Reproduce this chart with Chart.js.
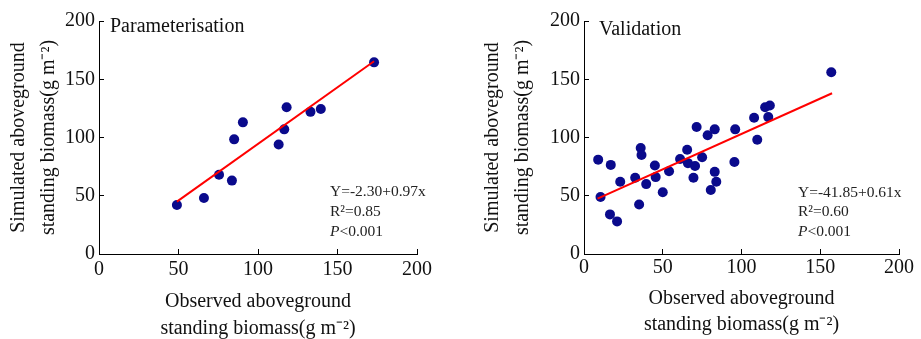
<!DOCTYPE html>
<html><head><meta charset="utf-8">
<script src="https://cdn.jsdelivr.net/npm/chart.js@4.4.1/dist/chart.umd.min.js"></script>
<style>
html,body{margin:0;padding:0;background:#fff;}
#wrap{position:relative;width:921px;height:339px;overflow:hidden;background:#fff;}
#c1{position:absolute;left:0;top:0;}
#c2{position:absolute;left:460px;top:0;}
</style></head><body>
<div id="wrap"><canvas id="c1" width="460" height="339"></canvas><canvas id="c2" width="461" height="339"></canvas></div>
<script>
// ---- data ----
const paramObserved  = [49, 66, 75.5, 83.6, 85, 90.5, 113, 116.5, 118, 133, 139.5, 173];
const paramSimulated = [42, 48, 68, 63, 98.4, 113, 94, 107, 126, 122, 124.5, 164.5];
const paramFitX = [49, 173];
const paramFitY = [45, 165.5];

const validObserved  = [9, 10.5, 17, 16.5, 21, 23, 32.5, 36, 36.5, 35, 39.5, 45, 45.5, 50, 54, 61, 65.5, 66, 70.5, 69.5, 71.5, 75, 78.5, 83, 80.5, 83, 84, 96, 95.5, 108, 110, 115, 118, 117, 157];
const validSimulated = [81, 49, 76.5, 34, 28, 62, 65.5, 91, 85, 42.5, 60, 76, 66, 53, 71, 81.5, 89.5, 78, 75.5, 65.5, 109, 83, 102, 107, 55, 70.5, 62, 107, 79, 117, 98, 126, 127.5, 117.5, 156];
const validFitX = [8.6, 157.5];
const validFitY = [47.5, 138];

const tickValues = [0, 50, 100, 150, 200];
const xTitle = ['Observed aboveground', 'standing biomass(g m\u207B\u00B2)'];
const yTitle = ['Simulated aboveground', 'standing biomass(g m\u207B\u00B2)'];
const paramText = {panel: 'Parameterisation', eq: 'Y=-2.30+0.97x', r2: 'R\u00B2=0.85', p: '<0.001'};
const validText = {panel: 'Validation', eq: 'Y=-41.85+0.61x', r2: 'R\u00B2=0.60', p: '<0.001'};

const FONT = 'Liberation Serif';

const textPlugin = {
  id: 'panelText',
  afterDraw(chart, args, o) {
    const ctx = chart.ctx;
    ctx.save();
    ctx.fillStyle = '#111';
    ctx.textBaseline = 'middle';
    ctx.textAlign = 'left';
    ctx.font = '20px "' + FONT + '"';
    ctx.fillText(o.t.panel, o.panelX, o.panelY);
    ctx.fillStyle = '#222';
    ctx.font = '15.5px "' + FONT + '"';
    ctx.fillText(o.t.eq, o.x, o.y[0]);
    ctx.fillText(o.t.r2, o.x, o.y[1]);
    ctx.font = 'italic 15.5px "' + FONT + '"';
    ctx.fillText('P', o.x, o.y[2]);
    const w = ctx.measureText('P').width;
    ctx.font = '15.5px "' + FONT + '"';
    ctx.fillText(o.t.p, o.x + w, o.y[2]);
    ctx.restore();
  }
};

function axis(kind, o) {
  return {
    type: 'linear', min: 0, max: 200,
    afterBuildTicks(scale) { scale.ticks = tickValues.map(v => ({value: v})); },
    ticks: {color: '#111', font: {family: FONT, size: 20}, padding: o.tickPad},
    grid: {drawOnChartArea: false, drawTicks: true, tickLength: -5, color: '#000', lineWidth: 1},
    border: {display: true, color: '#000', width: 1},
    title: {display: true, text: o.title, color: '#111',
            font: {family: FONT, size: 20, lineHeight: o.lh}, padding: o.titlePad},
    afterFit(scale) { if (kind === 'x') scale.height = o.size; else scale.width = o.size; }
  };
}

function makeChart(id, obs, sim, fx, fy, cfg) {
  new Chart(document.getElementById(id), {
    type: 'scatter',
    data: {
      datasets: [
        {type: 'line', data: fx.map((x, i) => ({x: x, y: fy[i]})), borderColor: '#ff0000',
         borderWidth: 2, pointRadius: 0, fill: false, showLine: true, tension: 0},
        {data: obs.map((x, i) => ({x: x, y: sim[i]})), backgroundColor: '#0a0a8c',
         borderWidth: 0, pointRadius: 5, pointHoverRadius: 5}
      ]
    },
    options: {
      responsive: false, animation: false, devicePixelRatio: 1,
      layout: {padding: {left: 0, top: 15, right: cfg.padRight, bottom: 0}},
      plugins: {legend: {display: false}, tooltip: {enabled: false}, panelText: cfg.text},
      scales: {
        x: axis('x', {title: xTitle, tickPad: cfg.xTickPad, lh: cfg.xLh, titlePad: {top: 0, bottom: cfg.xTitlePad}, size: 85}),
        y: axis('y', {title: yTitle, tickPad: 9, lh: 1.5, titlePad: {top: cfg.yTitlePad, bottom: 0}, size: cfg.yWidth})
      }
    },
    plugins: [textPlugin]
  });
}

makeChart('c1', paramObserved, paramSimulated, paramFitX, paramFitY, {
  padRight: 43, yWidth: 99, xTickPad: 9, xLh: 1.35, xTitlePad: -3, yTitlePad: 4,
  text: {t: paramText, panelX: 110, panelY: 27, x: 330, y: [192, 211.5, 231.5]}
});
makeChart('c2', validObserved, validSimulated, validFitX, validFitY, {
  padRight: 19, yWidth: 124, xTickPad: 7, xLh: 1.3, xTitlePad: 1, yTitlePad: 18,
  text: {t: validText, panelX: 139, panelY: 30, x: 338, y: [192.5, 212, 232]}
});
</script>
</body></html>
